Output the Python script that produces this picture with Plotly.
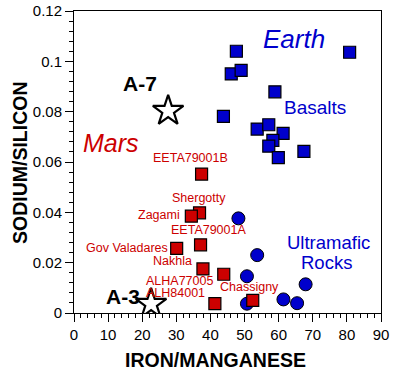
import plotly.graph_objects as go

# Earth basalts (blue squares)
basalt_fe_mn = [47.6, 80.8, 46.1, 49.0, 58.9, 43.8, 53.7, 57.1, 61.3, 58.3, 57.1, 59.9, 67.4]
basalt_na_si = [0.104, 0.1036, 0.095, 0.0964, 0.0879, 0.0781, 0.0731, 0.0748, 0.0714, 0.0686, 0.0663, 0.0617, 0.0642]

# Earth ultramafic rocks (blue circles)
ultra_fe_mn = [48.2, 53.7, 50.7, 67.9, 50.7, 61.4, 65.4]
ultra_na_si = [0.0376, 0.0230, 0.0146, 0.0114, 0.0037, 0.0054, 0.0039]

# Mars meteorites (red squares)
mars_names = ["EETA79001B", "Shergotty", "Zagami", "EETA79001A", "Gov Valadares",
              "Nakhla", "ALHA77005", "ALH84001", "Chassigny"]
mars_fe_mn = [37.4, 36.8, 34.4, 37.1, 30.1, 37.8, 43.9, 41.3, 52.4]
mars_na_si = [0.0552, 0.0398, 0.0385, 0.0271, 0.0257, 0.0175, 0.0154, 0.0037, 0.0050]

# Stars (samples)
star_names = ["A-7", "A-3"]
star_fe_mn = [27.6, 22.6]
star_na_si = [0.0803, 0.0036]

x_ticks = [0, 10, 20, 30, 40, 50, 60, 70, 80, 90]
y_ticks = [0, 0.02, 0.04, 0.06, 0.08, 0.1, 0.12]
y_tick_text = ["0", "0.02", "0.04", "0.06", "0.08", "0.1", "0.12"]

BLUE = "#0000CC"
RED = "#CC0000"
FONT = "Liberation Sans, Arial, sans-serif"

fig = go.Figure()
fig.add_trace(go.Scatter(x=basalt_fe_mn, y=basalt_na_si, mode="markers",
                         marker=dict(symbol="square", size=12, color=BLUE,
                                     line=dict(color="black", width=1.2))))
fig.add_trace(go.Scatter(x=ultra_fe_mn, y=ultra_na_si, mode="markers",
                         marker=dict(symbol="circle", size=13, color=BLUE,
                                     line=dict(color="black", width=1))))
fig.add_trace(go.Scatter(x=mars_fe_mn, y=mars_na_si, mode="markers",
                         marker=dict(symbol="square", size=12, color=RED,
                                     line=dict(color="black", width=1.2))))
fig.add_trace(go.Scatter(x=star_fe_mn, y=star_na_si, mode="markers",
                         marker=dict(symbol="star", size=23, color="white",
                                     line=dict(color="black", width=2.2))))

# label offsets (pixels) relative to each Mars point
label_offsets = {
    "EETA79001B": (-11, 16, "center"),
    "Shergotty": (-1, 15, "center"),
    "Zagami": (-10, 1, "right"),
    "EETA79001A": (8, 15, "center"),
    "Gov Valadares": (-8, 0, "right"),
    "Nakhla": (-10, 8, "right"),
    "ALHA77005": (-10, -7, "right"),
    "ALH84001": (-9, 11, "right"),
    "Chassigny": (-3, 13, "center"),
}
for name, x, y in zip(mars_names, mars_fe_mn, mars_na_si):
    dx, dy, anchor = label_offsets[name]
    fig.add_annotation(x=x, y=y, text=name, showarrow=False, xshift=dx, yshift=dy,
                       xanchor=anchor, borderpad=0,
                       font=dict(family=FONT, size=12.5, color=RED))

star_offsets = {"A-7": (-10, 27), "A-3": (-10, 7)}
for name, x, y in zip(star_names, star_fe_mn, star_na_si):
    dx, dy = star_offsets[name]
    fig.add_annotation(x=x, y=y, text="<b>%s</b>" % name, showarrow=False,
                       xshift=dx, yshift=dy, xanchor="right", borderpad=0,
                       font=dict(family=FONT, size=21, color="black"))

fig.add_annotation(x=64.35, y=0.1090, text="<i>Earth</i>", showarrow=False,
                   font=dict(family=FONT, size=26, color=BLUE))
fig.add_annotation(x=70.65, y=0.0815, text="Basalts", showarrow=False,
                   font=dict(family=FONT, size=19, color=BLUE))
fig.add_annotation(x=74.5, y=0.0280, text="Ultramafic", showarrow=False,
                   font=dict(family=FONT, size=18.5, color=BLUE))
fig.add_annotation(x=73.9, y=0.0202, text="Rocks", showarrow=False,
                   font=dict(family=FONT, size=18.5, color=BLUE))
fig.add_annotation(x=10.85, y=0.0677, text="<i>Mars</i>", showarrow=False,
                   font=dict(family=FONT, size=25, color=RED))

# axis titles
fig.add_annotation(xref="paper", yref="paper", x=0.4625, y=-0.1556,
                   text="<b>IRON/MANGANESE</b>", showarrow=False,
                   xanchor="center", yanchor="middle",
                   font=dict(family=FONT, size=19.5, color="black"))
fig.add_annotation(xref="paper", yref="paper", x=-0.1759, y=0.5,
                   text="<b>SODIUM/SILICON</b>", showarrow=False, textangle=-90,
                   xanchor="center", yanchor="middle",
                   font=dict(family=FONT, size=19.5, color="black"))

axis_common = dict(showgrid=False, zeroline=False, showline=True, linecolor="black",
                   linewidth=1, mirror=True, ticks="outside", ticklen=8,
                   tickcolor="black", automargin=False, ticklabeloverflow="allow",
                   tickfont=dict(family=FONT, size=15, color="black"))
fig.update_xaxes(range=[0, 90], tickvals=x_ticks,
                 minor=dict(dtick=2, ticks="outside", ticklen=4, tickcolor="black"),
                 **axis_common)
fig.update_yaxes(range=[0, 0.12], tickvals=y_ticks, ticktext=y_tick_text,
                 minor=dict(dtick=0.004, ticks="outside", ticklen=4, tickcolor="black"),
                 **axis_common)

fig.update_layout(width=395, height=372, showlegend=False,
                  margin=dict(l=74, r=14, t=11, b=59, autoexpand=False),
                  paper_bgcolor="white", plot_bgcolor="white")

# remove the browser's default 8px body margin so the figure sits at the page corner
fig.write_html("out.html", config={"displayModeBar": False},
               post_script="document.body.style.margin='0px';")
